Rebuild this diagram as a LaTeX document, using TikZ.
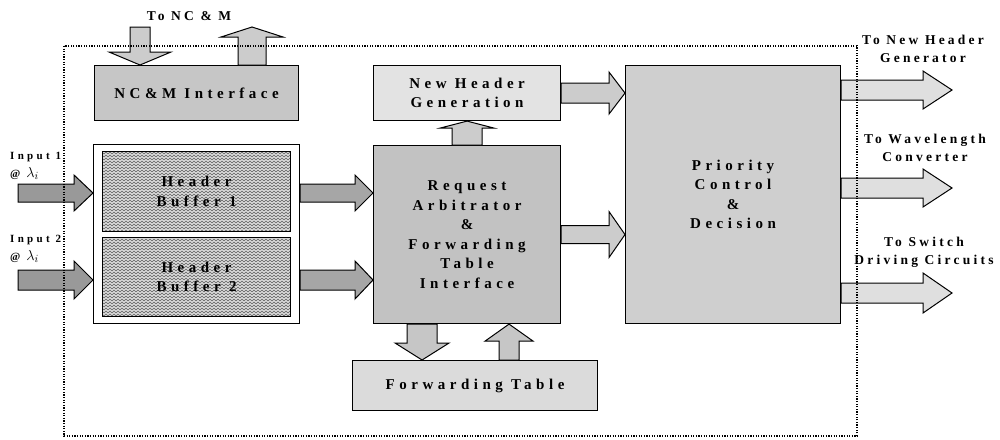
\documentclass[tikz,border=0pt]{standalone}
\usepackage{fontspec}
\setmainfont{Liberation Serif}
\newfontfamily\spacedrm[LetterSpace=30]{Liberation Serif}
\newfontfamily\spacedlb[LetterSpace=24]{Liberation Serif}
\usetikzlibrary{positioning,calc,patterns}
\pgfdeclarepatternformonly{zigzag}{\pgfpoint{-1pt}{-1pt}}{\pgfpoint{5pt}{4pt}}{\pgfpoint{4pt}{3pt}}{
  \pgfsetlinewidth{0.5pt}
  \pgfpathmoveto{\pgfpoint{0pt}{0pt}}
  \pgfpathlineto{\pgfpoint{2pt}{2pt}}
  \pgfpathlineto{\pgfpoint{4pt}{0pt}}
  \pgfusepath{stroke}
}
\tikzset{
  blk/.style   ={draw=black, line width=1.1pt, anchor=north west, align=center, inner sep=0pt,
                 font=\spacedrm\bfseries\fontsize{15}{19.5}\selectfont},
  buf/.style   ={blk, preaction={fill=gray!30}, pattern=zigzag, pattern color=gray!75!black},
  lbl/.style   ={inner sep=0pt, align=center, font=\spacedlb\bfseries\fontsize{13.5}{18}\selectfont},
  inlbl/.style ={inner sep=0pt, align=left, anchor=north west,
                 font=\spacedrm\bfseries\fontsize{11}{18}\selectfont},
  fat/.style   ={draw=black, line width=1pt, line join=miter},
  dotbox/.style={line width=1.2pt, dash pattern=on 1.2pt off 1.4pt},
}
% block arrow: style, from, to, shaft half width, head half width, head length
\newcommand{\blockarr}[6]{%
  \coordinate (ta) at (#2);
  \coordinate (tb) at (#3);
  \coordinate (hb) at ($(tb)!#6!(ta)$);
  \draw[fat,#1] ($(ta)!#4!90:(tb)$) -- ($(hb)!#4!90:(tb)$) -- ($(hb)!#5!90:(tb)$) -- (tb)
    -- ($(hb)!#5!-90:(tb)$) -- ($(hb)!#4!-90:(tb)$) -- ($(ta)!#4!-90:(tb)$) -- cycle;
}

\begin{document}
\begin{tikzpicture}[x=1pt,y=-1pt]
\useasboundingbox (0,0) rectangle (1000,439);

% boxes
\node[blk,fill=gray!45,minimum width=204pt,minimum height=55pt] (nci) at (94,65) {NC\&M Interface};
\node[blk,fill=white,minimum width=206pt,minimum height=179pt] (hbufs) at (93,144) {};
\node[buf,minimum width=188pt,minimum height=80pt] (hb1) at (102,151) {Header\\Buffer 1};
\node[buf,minimum width=188pt,minimum height=79pt] (hb2) at (102,237) {Header\\Buffer 2};
\node[blk,fill=gray!22,minimum width=187pt,minimum height=55pt] (nhg) at (373,65) {New Header\\Generation};
\node[blk,fill=gray!48,minimum width=187pt,minimum height=178pt] (req) at (373,145)
  {Request\\Arbitrator\\\&\\Forwarding\\Table\\Interface};
\node[blk,fill=gray!38,minimum width=215pt,minimum height=258pt] (pcd) at (625,65)
  {Priority\\Control\\\&\\Decision};
\node[blk,fill=gray!28,minimum width=245pt,minimum height=50pt] (ft) at (352,360) {Forwarding Table};

% labels
\node[lbl] (lblnc) at (189,16) {To NC \& M};
\node[inlbl] (lblin1) at (10,152) {Input 1\\@ {\fontsize{15}{18}\selectfont$\lambda_i$}};
\node[inlbl] (lblin2) at (10,235) {Input 2\\@ {\fontsize{15}{18}\selectfont$\lambda_i$}};
\node[lbl] (lblo1) at (923,49) {To New Header\\Generator};
\node[lbl] (lblo2) at (925,148) {To Wavelength\\Converter};
\node[lbl] (lblo3) at (924,252) {To Switch\\Driving Circuits};

% free ends
\coordinate (ncdn) at (140,27);
\coordinate (ncup) at (252,27);
\coordinate (in1) at (18,193);
\coordinate (in2) at (18,280);
\coordinate (rqdn) at ($(req.south)+(-45,0)$);
\coordinate (ftup) at ($(ft.north)+(34,0)$);
\coordinate (o1) at (952,90);
\coordinate (o2) at (952,188);
\coordinate (o3) at (952,293);

% block arrows
\blockarr{fill=gray!40}{ncdn}{ncdn |- nci.north}{10pt}{31pt}{13pt}
\blockarr{fill=gray!40}{ncup |- nci.north}{ncup}{14pt}{31pt}{10pt}
\blockarr{fill=gray!80}{in1}{in1 -| hbufs.west}{9pt}{18pt}{19pt}
\blockarr{fill=gray!80}{in2}{in2 -| hbufs.west}{10pt}{19pt}{19pt}
\blockarr{fill=gray!70}{in1 -| hbufs.east}{in1 -| req.west}{9pt}{18pt}{18pt}
\blockarr{fill=gray!70}{in2 -| hbufs.east}{in2 -| req.west}{10pt}{19pt}{18pt}
\blockarr{fill=gray!40}{req.north}{nhg.south}{15pt}{27pt}{7pt}
\blockarr{fill=gray!40}{nhg.east}{nhg.east -| pcd.west}{10pt}{21pt}{16pt}
\blockarr{fill=gray!40}{req.east}{req.east -| pcd.west}{9pt}{23pt}{16pt}
\blockarr{fill=gray!45}{rqdn}{rqdn |- ft.north}{15pt}{27pt}{17pt}
\blockarr{fill=gray!45}{ftup}{ftup |- req.south}{10pt}{24pt}{17pt}
\blockarr{fill=gray!25}{o1 -| pcd.east}{o1}{10pt}{19pt}{29pt}
\blockarr{fill=gray!25}{o2 -| pcd.east}{o2}{10pt}{19pt}{29pt}
\blockarr{fill=gray!25}{o3 -| pcd.east}{o3}{10pt}{20pt}{29pt}

% dotted boundary
\draw[dotbox] (64,46) rectangle (857,436);
\end{tikzpicture}
\end{document}
